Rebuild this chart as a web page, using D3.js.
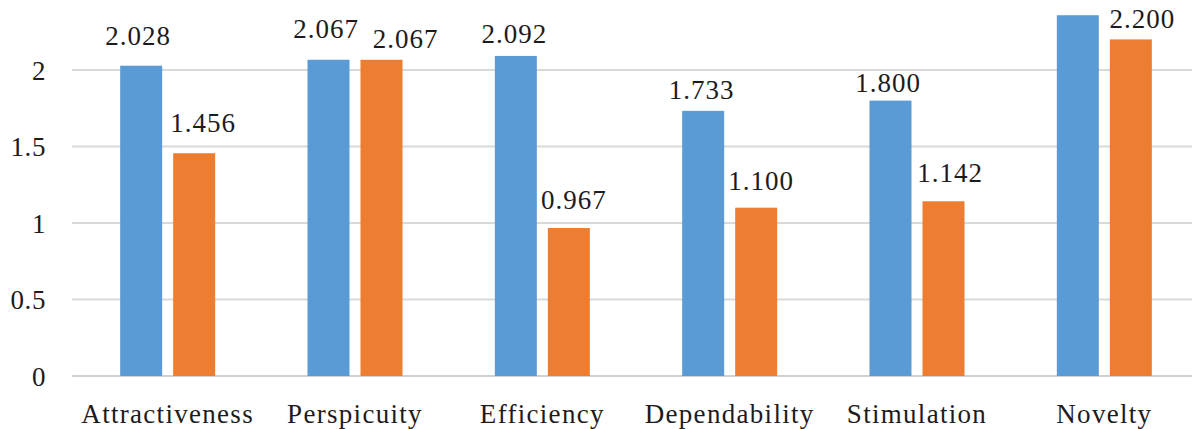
<!DOCTYPE html>
<html>
<head>
<meta charset="utf-8">
<script src="https://cdn.jsdelivr.net/npm/d3@7"></script>
<style>
  html, body { margin: 0; padding: 0; background: #fff; }
  svg { display: block; }
  text { font-family: "Liberation Serif", "Times New Roman", serif; fill: #1e1b1c; }
</style>
</head>
<body>
<svg id="chart" width="1192" height="429"></svg>
<script>
// UEQ scale means for two groups
const categories = ["Attractiveness", "Perspicuity", "Efficiency", "Dependability", "Stimulation", "Novelty"];
const seriesA = [2.028, 2.067, 2.092, 1.733, 1.800, 2.358];
const seriesB = [1.456, 2.067, 0.967, 1.100, 1.142, 2.200];
const labelsA = ["2.028", "2.067", "2.092", "1.733", "1.800", null];
const labelsB = ["1.456", "2.067", "0.967", "1.100", "1.142", "2.200"];
const yTicks = [0, 0.5, 1, 1.5, 2];
const yTickLabels = ["0", "0.5", "1", "1.5", "2"];
const colors = ["#5b9bd5", "#ed7d31"];

// hand-placed label nudges: [dx from bar centre, gap between baseline and bar top]
const nudgeA = [[-3, 21], [-2.5, 22], [-1.5, 13], [-1.5, 12], [-2.5, 9], [0, 21]];
const nudgeB = [[9, 21], [24, 12], [5, 19], [5, 18], [6.5, 19], [11.5, 11]];

const svg = d3.select("#chart");
const W = 1192;

const x = d3.scaleBand().domain(categories).range([74, 1198]);
const y = d3.scaleLinear().domain([0, 2]).range([376, 70]);

const barW = 42, barGap = 11;
const groupW = barW * 2 + barGap;

// gridlines
svg.append("g")
  .selectAll("line")
  .data(yTicks)
  .join("line")
  .attr("x1", 72).attr("x2", W)
  .attr("y1", d => y(d)).attr("y2", d => y(d))
  .attr("stroke", d => d === 0 ? "#d0d0d0" : "#d9d9d9")
  .attr("stroke-width", 2);

// y tick labels
svg.append("g")
  .selectAll("text")
  .data(yTicks)
  .join("text")
  .attr("x", 46)
  .attr("y", d => y(d) + 9.5)
  .attr("text-anchor", "end")
  .attr("font-size", 27)
  .attr("letter-spacing", 0.6)
  .text((d, i) => yTickLabels[i]);

const series = [
  { values: seriesA, labels: labelsA, nudge: nudgeA, color: colors[0], offset: 0 },
  { values: seriesB, labels: labelsB, nudge: nudgeB, color: colors[1], offset: barW + barGap }
];

series.forEach(s => {
  const g = svg.append("g");
  const barX = c => x(c) + (x.bandwidth() - groupW) / 2 + s.offset;
  g.selectAll("rect")
    .data(categories)
    .join("rect")
    .attr("x", barX)
    .attr("width", barW)
    .attr("y", (c, i) => y(s.values[i]))
    .attr("height", (c, i) => y(0) - y(s.values[i]))
    .attr("fill", s.color);

  g.selectAll("text")
    .data(categories.map((c, i) => ({ c, v: s.values[i], t: s.labels[i], n: s.nudge[i] })).filter(d => d.t !== null))
    .join("text")
    .attr("x", d => barX(d.c) + barW / 2 + d.n[0])
    .attr("y", d => y(d.v) - d.n[1])
    .attr("text-anchor", "middle")
    .attr("font-size", 27)
    .attr("letter-spacing", 1)
    .text(d => d.t);
});

// category labels
svg.append("g")
  .selectAll("text")
  .data(categories)
  .join("text")
  .attr("x", c => x(c) + x.bandwidth() / 2)
  .attr("y", 423)
  .attr("text-anchor", "middle")
  .attr("font-size", 27)
  .attr("letter-spacing", 1.3)
  .text(c => c);
</script>
</body>
</html>
